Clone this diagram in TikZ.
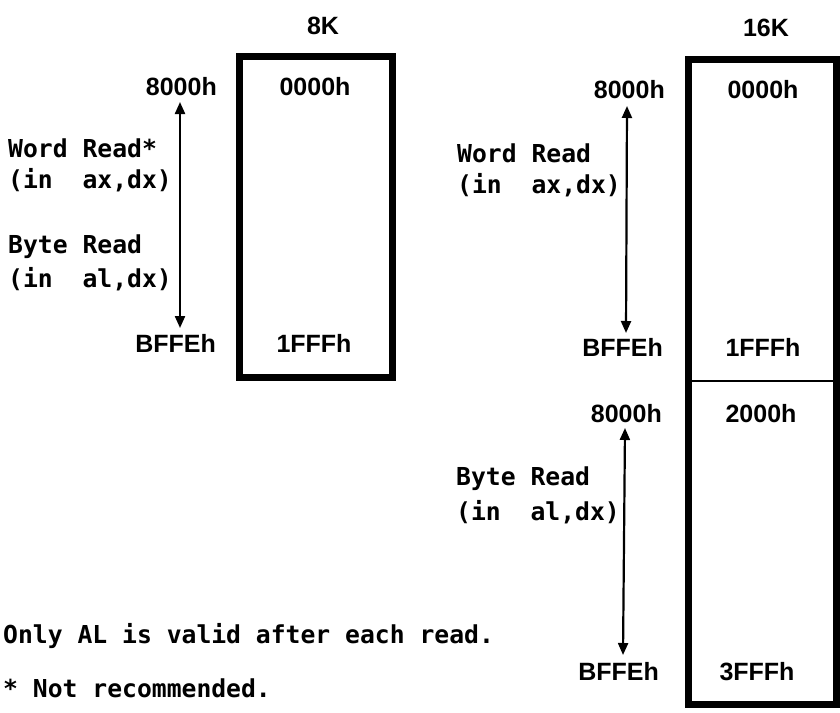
\documentclass[tikz,border=0pt]{standalone}
\usepackage{fontspec}
\setmainfont{Liberation Sans}
\newfontfamily\monofont{DejaVu Sans Mono}
\usetikzlibrary{arrows.meta}
\tikzset{
  hexlbl/.style={font=\fontsize{25}{28}\selectfont\bfseries, inner sep=0pt},
  hexR/.style={hexlbl, anchor=base east},
  hexC/.style={hexlbl, anchor=base},
  monotxt/.style={font=\fontsize{24.7}{28}\monofont\bfseries, inner sep=0pt, anchor=base west},
  membox/.style={line width=7pt},
  rangearrow/.style={line width=2.2pt, {Triangle[length=12pt,width=10pt]}-{Triangle[length=12pt,width=10pt]}}
}
\begin{document}
\begin{tikzpicture}[x=1pt,y=-1pt]
\useasboundingbox (0,0) rectangle (840,712);
% boxes
\draw[membox] (239,56) rectangle (392,377);
\draw[membox] (688,59) rectangle (836.5,704);
\draw[line width=2pt] (688,381) -- (836.5,381);
% titles
\node[hexC] (t8) at (323,34) {8K};
\node[hexC] (t16) at (766,36) {16K};
% left block
\node[hexR] (l8000) at (217,95) {8000h};
\node[hexC] (l0000) at (315,95) {0000h};
\node[hexR] (lbffe) at (216,352) {BFFEh};
\node[hexC] (l1fff) at (314,352) {1FFFh};
\coordinate (la) at (180,102);
\coordinate (lb) at (180,328);
\draw[rangearrow] (la) -- (lb);
\node[monotxt] (lw1) at (8,157) {Word Read*};
\node[monotxt] (lw2) at (8,188) {(in\ \ ax,dx)};
\node[monotxt] (lb1) at (8,253) {Byte Read};
\node[monotxt] (lb2) at (8,287) {(in\ \ al,dx)};
% right block top
\node[hexR] (r8000) at (665,98) {8000h};
\node[hexC] (r0000) at (763,98) {0000h};
\node[hexR] (rbffe) at (663,356) {BFFEh};
\node[hexC] (r1fff) at (763,356) {1FFFh};
\coordinate (ra) at (627,106);
\coordinate (rb) at (626,333);
\draw[rangearrow] (ra) -- (rb);
\node[monotxt] (rw1) at (457,162) {Word Read};
\node[monotxt] (rw2) at (457,193) {(in\ \ ax,dx)};
% right block bottom
\node[hexR] (s8000) at (662,422) {8000h};
\node[hexC] (s2000) at (761,422) {2000h};
\node[hexR] (sbffe) at (659,680) {BFFEh};
\node[hexC] (s3fff) at (757,680) {3FFFh};
\coordinate (sa) at (625,428);
\coordinate (sb) at (623,655);
\draw[rangearrow] (sa) -- (sb);
\node[monotxt] (sb1) at (456,485) {Byte Read};
\node[monotxt] (sb2) at (456,520) {(in\ \ al,dx)};
% notes
\node[monotxt] (n1) at (3,643) {Only AL is valid after each read.};
\node[monotxt] (n2) at (3,697) {* Not recommended.};
\end{tikzpicture}
\end{document}
